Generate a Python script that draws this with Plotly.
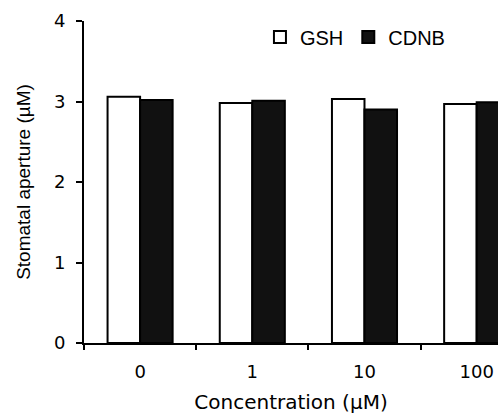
import plotly.graph_objects as go

categories = ["0", "1", "10", "100"]
gsh_values = [3.06, 2.98, 3.03, 2.97]
cdnb_values = [3.02, 3.01, 2.90, 2.99]
y_ticks = [0, 1, 2, 3, 4]

FONT = "Liberation Sans, Arial, sans-serif"
WIDE = "DejaVu Sans, sans-serif"

fig = go.Figure()
fig.add_trace(go.Bar(name="GSH", x=categories, y=gsh_values,
                     marker=dict(color="white", line=dict(color="black", width=2))))
fig.add_trace(go.Bar(name="CDNB", x=categories, y=cdnb_values,
                     marker=dict(color="#111111", line=dict(color="black", width=2))))

fig.update_layout(
    template="none",
    width=498, height=414,
    margin=dict(l=84, r=0, t=21, b=71, pad=0, autoexpand=False),
    paper_bgcolor="white", plot_bgcolor="white",
    barmode="group", bargap=0.42, bargroupgap=0,
    font=dict(family=FONT, size=18, color="black"),
    showlegend=True,
    legend=dict(orientation="h", x=0.425, y=0.95, xanchor="left", yanchor="middle",
                font=dict(family=FONT, size=20), traceorder="normal",
                bgcolor="rgba(0,0,0,0)", borderwidth=0),
    xaxis=dict(type="category", range=[-0.5, 3.19], automargin=False, showline=True,
               linecolor="black", linewidth=2, ticks="outside", tickson="boundaries",
               ticklen=5, tickwidth=2, tickcolor="black", showgrid=False, zeroline=False,
               ticklabelstandoff=11, tickfont=dict(family=WIDE, size=18),
               title=dict(text="Concentration (µM)", font=dict(family=WIDE, size=20),
                          standoff=19)),
    yaxis=dict(range=[0, 4], tickvals=y_ticks, automargin=False, showline=True,
               linecolor="black", linewidth=2, ticks="outside", ticklen=6, tickwidth=2,
               tickcolor="black", showgrid=False, zeroline=False, ticklabelstandoff=7,
               tickfont=dict(family=WIDE, size=18),
               title=dict(text="Stomatal aperture (µM)", font=dict(family=FONT, size=19),
                          standoff=18)),
)

fig.write_html(
    "out.html",
    config={"displayModeBar": False},
    post_script="document.body.style.margin='0';document.body.style.overflow='hidden';",
)
